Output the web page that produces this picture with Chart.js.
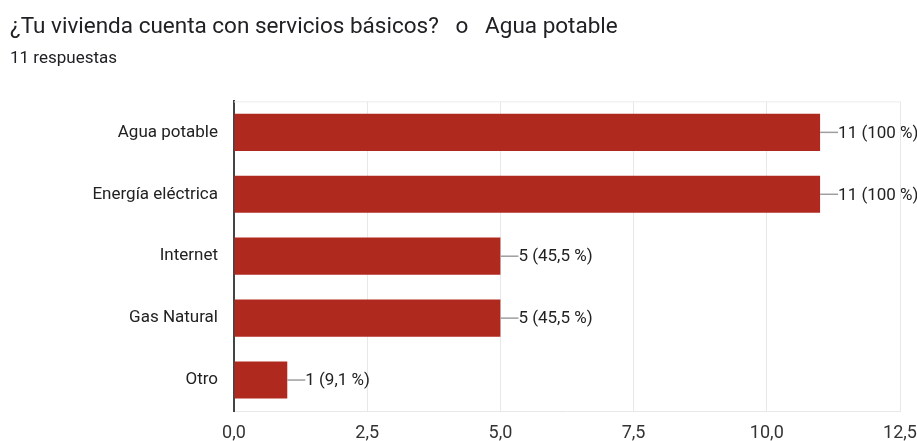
<!DOCTYPE html>
<html>
<head>
<meta charset="utf-8">
<script src="https://cdn.jsdelivr.net/npm/chart.js@4.4.1/dist/chart.umd.min.js"></script>
<style>
  html, body { margin: 0; padding: 0; background: #fff; }
  #wrap { width: 917px; height: 441px; position: relative; }
</style>
</head>
<body>
<div id="wrap"><canvas id="myChart" width="917" height="441"></canvas></div>
<script>
// datos
const categorias = ['Agua potable', 'Energía eléctrica', 'Internet', 'Gas Natural', 'Otro'];
const respuestas = [11, 11, 5, 5, 1];
const porcentajes = ['100 %', '100 %', '45,5 %', '45,5 %', '9,1 %'];
const tituloTexto = '¿Tu vivienda cuenta con servicios básicos?   o   Agua potable';
const subtituloTexto = '11 respuestas';
const ejeMax = 12.5;
const ejePaso = 2.5;

const FONT = 'Roboto, "Noto Sans", sans-serif';

// etiquetas con linea guia al final de cada barra
const etiquetasBarras = {
    id: 'etiquetasBarras',
    afterDatasetsDraw(chart) {
        const ctx = chart.ctx;
        const area = chart.chartArea;
        // linea superior tenue
        ctx.save();
        ctx.strokeStyle = '#ececec';
        ctx.lineWidth = 1;
        ctx.beginPath();
        ctx.moveTo(area.left, area.top + 0.5);
        ctx.lineTo(area.right, area.top + 0.5);
        ctx.stroke();

        const meta = chart.getDatasetMeta(0);
        meta.data.forEach((bar, i) => {
            const x = bar.x;
            const y = bar.y;
            ctx.strokeStyle = '#9e9e9e';
            ctx.lineWidth = 1.5;
            ctx.beginPath();
            ctx.moveTo(x, y);
            ctx.lineTo(x + 18, y);
            ctx.stroke();
            ctx.fillStyle = '#222';
            ctx.font = '17px ' + FONT;
            ctx.textAlign = 'left';
            ctx.textBaseline = 'middle';
            ctx.fillText(`${respuestas[i]} (${porcentajes[i]})`, x + 18, y + 1);
        });
        ctx.restore();
    }
};

const ctx = document.getElementById('myChart').getContext('2d');
const myChart = new Chart(ctx, {
    type: 'bar',
    data: {
        labels: categorias,
        datasets: [{
            data: respuestas,
            backgroundColor: '#b0291e',
            borderWidth: 0,
            barPercentage: 0.6,
            categoryPercentage: 1.0
        }]
    },
    options: {
        indexAxis: 'y',
        responsive: false,
        animation: false,
        layout: {
            padding: { left: 10, right: 17, top: 0, bottom: 0 }
        },
        plugins: {
            legend: { display: false },
            tooltip: { enabled: false },
            title: {
                display: true,
                text: tituloTexto,
                align: 'start',
                color: '#202124',
                font: { family: FONT, size: 22.5, weight: 'normal' },
                padding: { top: 14, bottom: 8 }
            },
            subtitle: {
                display: true,
                text: subtituloTexto,
                align: 'start',
                color: '#202124',
                font: { family: FONT, size: 17 },
                padding: { top: 0, bottom: 32 }
            }
        },
        scales: {
            x: {
                min: 0,
                max: ejeMax,
                ticks: {
                    stepSize: ejePaso,
                    color: '#333',
                    padding: 12,
                    font: { family: FONT, size: 18 },
                    callback: v => v.toFixed(1).replace('.', ',')
                },
                grid: { color: '#e8e8e8', drawTicks: false },
                border: { display: true, color: '#e8e8e8' },
                afterFit(scale) {
                    scale.height = 30;
                    scale.paddingRight = 0;
                }
            },
            y: {
                ticks: {
                    color: '#222',
                    padding: 16,
                    font: { family: FONT, size: 17 }
                },
                grid: { display: false, drawTicks: false },
                border: { display: true, color: '#444', width: 2 },
                afterFit(scale) { scale.width = 224; }
            }
        }
    },
    plugins: [etiquetasBarras]
});
</script>
</body>
</html>
